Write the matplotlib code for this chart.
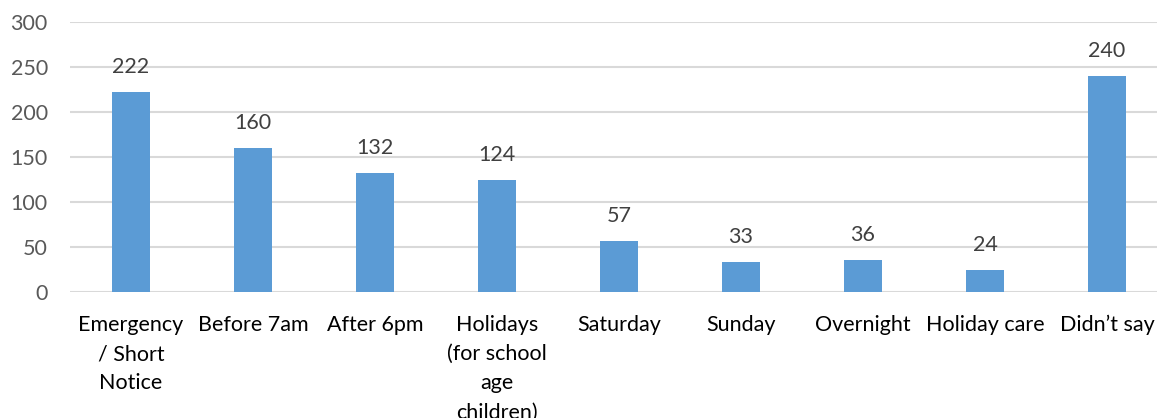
import matplotlib
matplotlib.use('Agg')
import matplotlib.pyplot as plt

# datos del grafico
categories = ['Emergency\n/ Short\nNotice', 'Before 7am', 'After 6pm',
              'Holidays\n(for school\nage\nchildren)', 'Saturday', 'Sunday',
              'Overnight', 'Holiday care', 'Didn\u2019t say']
values = [222, 160, 132, 124, 57, 33, 36, 24, 240]
yticks = [0, 50, 100, 150, 200, 250, 300]

plt.rcParams['font.family'] = ['Lato', 'DejaVu Sans']

fig = plt.figure(figsize=(11.57, 4.18), dpi=100)
ax = fig.add_axes([70 / 1157, 126 / 418, 1098 / 1157, 270 / 418])

x = range(len(categories))
ax.bar(x, values, width=0.31, color='#5B9BD5', zorder=3)

for xi, v in zip(x, values):
    ax.annotate(str(v), (xi, v), xytext=(0, 18), textcoords='offset points',
                ha='center', va='center', fontsize=15.5, color='#404040')

ax.set_xlim(-0.5, len(categories) - 0.5)
ax.set_ylim(0, 300)
ax.set_yticks(yticks)
ax.set_xticks(list(x))
ax.set_xticklabels(categories, fontsize=15.5, color='#000000', linespacing=1.58)
ax.tick_params(axis='y', length=0, pad=16, labelsize=15.5, labelcolor='#595959')
ax.tick_params(axis='x', length=0, pad=16.5)
ax.grid(axis='y', color='#D9D9D9', linewidth=1.5, zorder=0)
for s in ax.spines.values():
    s.set_visible(False)

plt.savefig('out.png', dpi=100)
